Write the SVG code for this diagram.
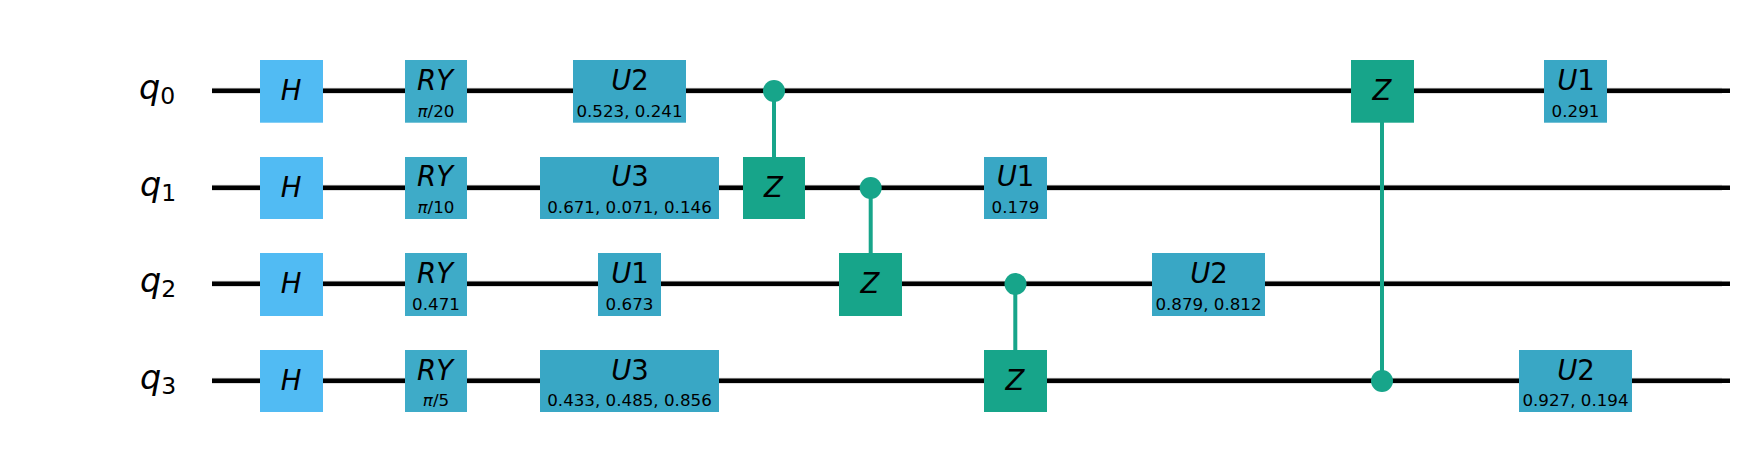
<svg xmlns="http://www.w3.org/2000/svg" width="1745" height="454" viewBox="0 0 1745 454">
<style>
text{font-family:"DejaVu Sans",sans-serif;fill:#000;text-anchor:middle}
.m{font-size:27.5px;font-style:italic}
.p{font-size:16.7px}
.d{font-style:normal}
.i{font-style:italic}
.h{fill:#51bbf3}.r{fill:#3eabc8}.u{fill:#39a7c5}.z{fill:#17a58a}
.w{stroke:#000;stroke-width:4.4;fill:none}
.wh{stroke:#d4d4d4;stroke-width:6;fill:none}
.c{stroke:#17a58a;stroke-width:4;fill:none}
.q{font-size:33.5px;font-style:italic;text-anchor:start}
.s{font-size:23.5px;font-style:normal}
</style>
<rect width="1745" height="454" fill="#fff"/>
<g id="connectors">
<path class="wh" d="M212 90.8H1722M212 187.8H1722M212 283.8H1722M212 380.8H1722"/>
<path class="w" d="M212 90.8H1730M212 187.8H1730M212 283.8H1730M212 380.8H1730"/>
<path class="c" d="M774 90.8V157M870.7 187.8V253M1015.3 283.8V350M1382 122V380.8"/>
</g>
<g id="q0"><text class="q" x="139" y="99">q<tspan class="s" dy="5">0</tspan></text></g>
<g id="q1"><text class="q" x="140" y="196">q<tspan class="s" dy="5">1</tspan></text></g>
<g id="q2"><text class="q" x="140" y="292">q<tspan class="s" dy="5">2</tspan></text></g>
<g id="q3"><text class="q" x="140" y="388.5">q<tspan class="s" dy="5">3</tspan></text></g>
<g id="h0"><rect class="h" x="260" y="60" width="63" height="62.7"/><text class="m" x="291" y="99.5">H</text></g>
<g id="h1"><rect class="h" x="260" y="157" width="63" height="62"/><text class="m" x="291" y="196.5">H</text></g>
<g id="h2"><rect class="h" x="260" y="253" width="63" height="63"/><text class="m" x="291" y="292.5">H</text></g>
<g id="h3"><rect class="h" x="260" y="350" width="63" height="62"/><text class="m" x="291" y="389.5">H</text></g>
<g id="ry0"><rect class="r" x="405" y="60" width="62" height="62.7"/><text class="m" x="435" y="90">RY</text><text class="p" x="436" y="117"><tspan class="i">π</tspan>/20</text></g>
<g id="ry1"><rect class="r" x="405" y="157" width="62" height="62"/><text class="m" x="435" y="186">RY</text><text class="p" x="436" y="213"><tspan class="i">π</tspan>/10</text></g>
<g id="ry2"><rect class="r" x="405" y="253" width="62" height="63"/><text class="m" x="435" y="283">RY</text><text class="p" x="436" y="309.5">0.471</text></g>
<g id="ry3"><rect class="r" x="405" y="350" width="62" height="62"/><text class="m" x="435" y="380">RY</text><text class="p" x="436" y="406"><tspan class="i">π</tspan>/5</text></g>
<g id="u2a"><rect class="u" x="573" y="60" width="113" height="62.7"/><text class="m" x="630" y="90">U<tspan class="d">2</tspan></text><text class="p" x="629.5" y="117">0.523, 0.241</text></g>
<g id="u3a"><rect class="u" x="540" y="157" width="179" height="62"/><text class="m" x="630" y="186">U<tspan class="d">3</tspan></text><text class="p" x="629.5" y="213">0.671, 0.071, 0.146</text></g>
<g id="u1a"><rect class="u" x="598" y="253" width="63" height="63"/><text class="m" x="630" y="283">U<tspan class="d">1</tspan></text><text class="p" x="629.5" y="309.5">0.673</text></g>
<g id="u3b"><rect class="u" x="540" y="350" width="179" height="62"/><text class="m" x="630" y="380">U<tspan class="d">3</tspan></text><text class="p" x="629.5" y="406">0.433, 0.485, 0.856</text></g>
<g id="cz0c"><circle class="z" cx="774" cy="91" r="11"/></g>
<g id="cz0t"><rect class="z" x="743" y="157" width="62" height="62"/><text class="m" x="773.5" y="196.5">Z</text></g>
<g id="cz1c"><circle class="z" cx="870.7" cy="188" r="11"/></g>
<g id="cz1t"><rect class="z" x="839" y="253" width="63" height="63"/><text class="m" x="870" y="292.5">Z</text></g>
<g id="u1b"><rect class="u" x="984" y="157" width="63" height="62"/><text class="m" x="1015.5" y="186">U<tspan class="d">1</tspan></text><text class="p" x="1015.5" y="213">0.179</text></g>
<g id="cz2c"><circle class="z" cx="1015.5" cy="284" r="11"/></g>
<g id="cz2t"><rect class="z" x="984" y="350" width="63" height="62"/><text class="m" x="1015" y="389.5">Z</text></g>
<g id="u2b"><rect class="u" x="1152" y="253" width="113" height="63"/><text class="m" x="1209" y="283">U<tspan class="d">2</tspan></text><text class="p" x="1208.5" y="309.5">0.879, 0.812</text></g>
<g id="cz3t"><rect class="z" x="1351" y="60" width="63" height="62.7"/><text class="m" x="1382" y="99.5">Z</text></g>
<g id="cz3c"><circle class="z" cx="1382" cy="381" r="11"/></g>
<g id="u1c"><rect class="u" x="1544" y="60" width="63" height="62.7"/><text class="m" x="1576" y="90">U<tspan class="d">1</tspan></text><text class="p" x="1575.5" y="117">0.291</text></g>
<g id="u2c"><rect class="u" x="1519" y="350" width="113" height="62"/><text class="m" x="1576" y="380">U<tspan class="d">2</tspan></text><text class="p" x="1575.5" y="406">0.927, 0.194</text></g>
</svg>
